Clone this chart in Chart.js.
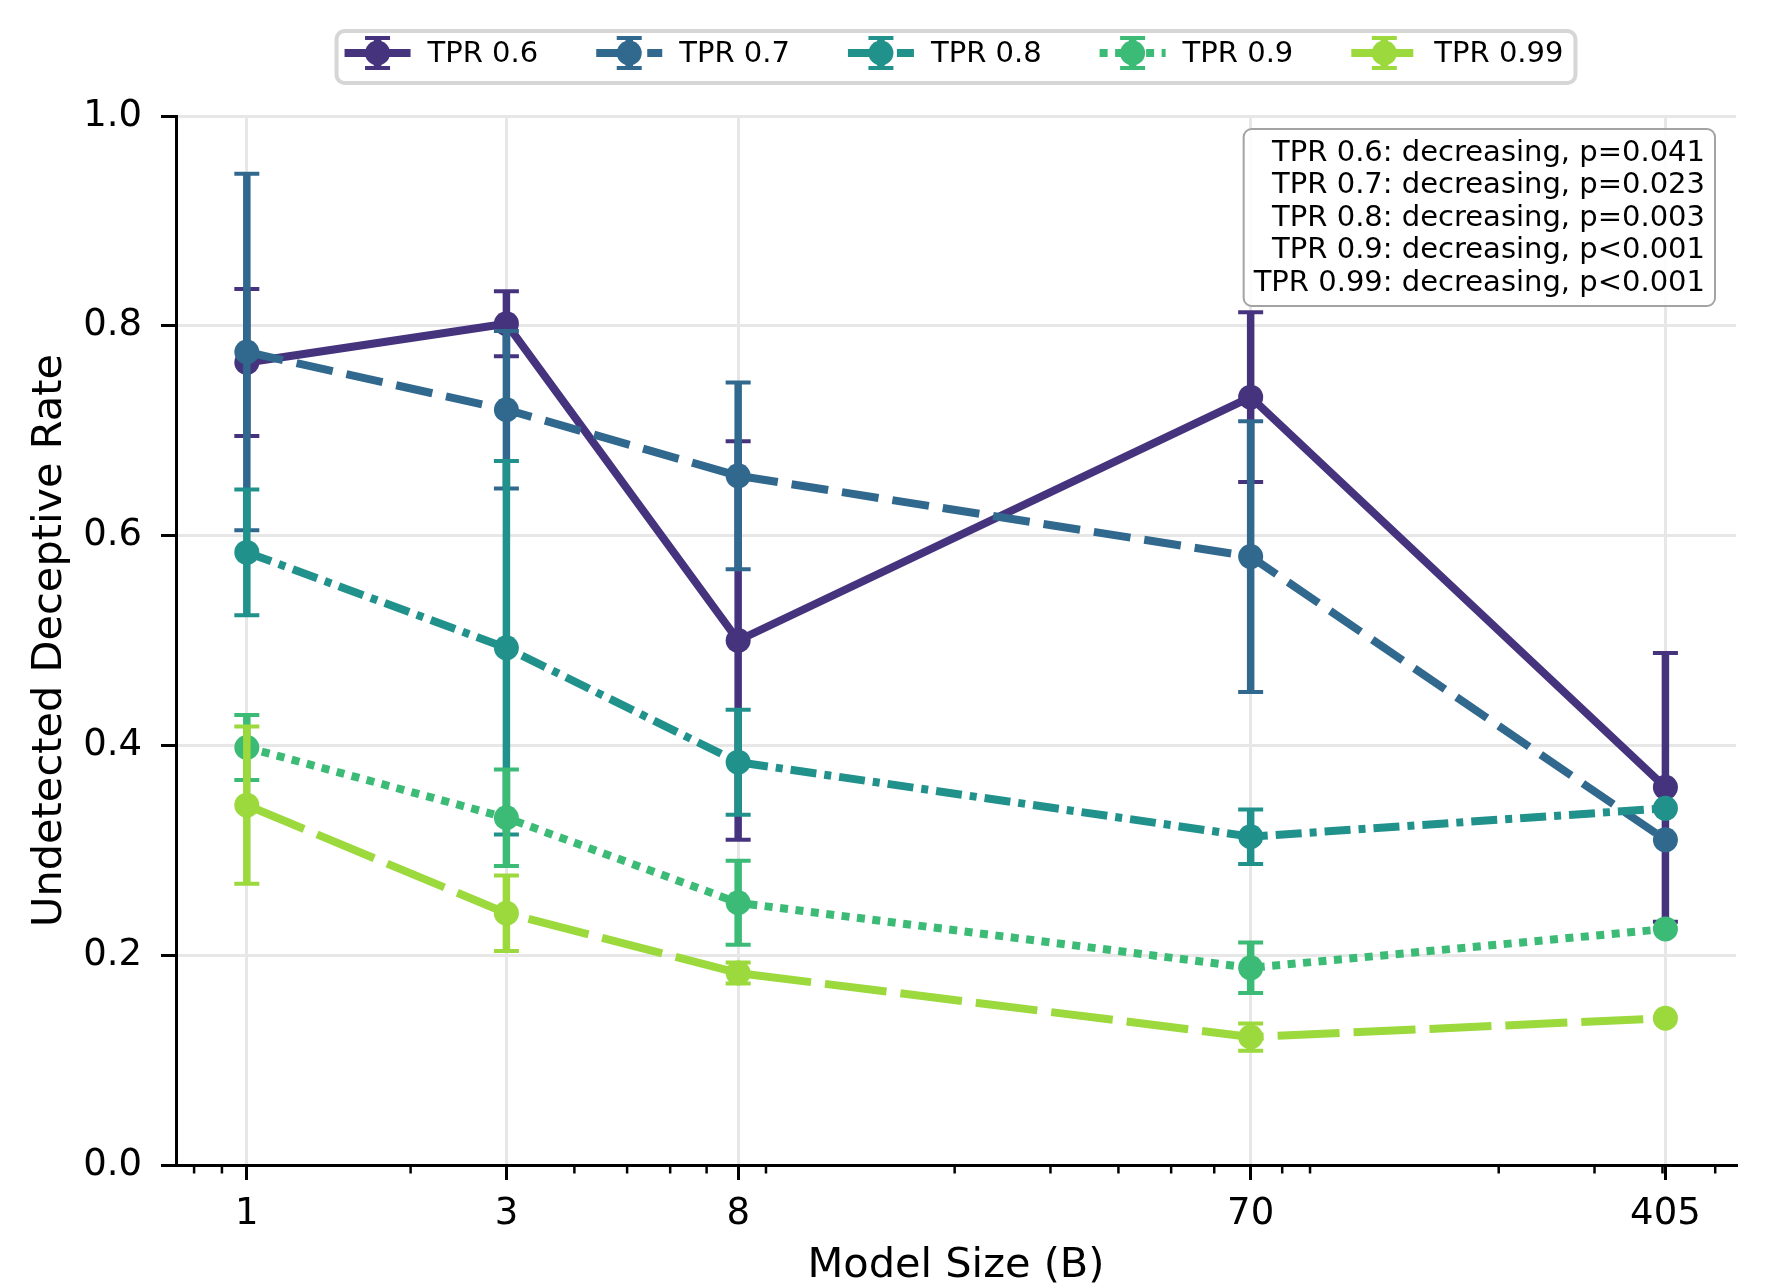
<!DOCTYPE html>
<html>
<head>
<meta charset="utf-8">
<script src="https://cdn.jsdelivr.net/npm/chart.js@4.4.1/dist/chart.umd.min.js"></script>
<style>
  html, body { margin: 0; padding: 0; background: #fff; }
  #wrap { width: 1768px; height: 1284px; }
</style>
</head>
<body>
<div id="wrap"><canvas id="myChart" width="1768" height="1284"></canvas></div>
<script>
// model sizes (B) on a log axis
const sizes = [1, 3, 8, 70, 405];
const xTickLabels = ['1', '3', '8', '70', '405'];
const minorTicks = [0.8, 0.9, 2, 4, 5, 6, 7, 9, 20, 30, 40, 50, 60, 80, 90, 200, 300, 400, 500];
const yTicks = [0, 0.2, 0.4, 0.6, 0.8, 1.0];

const labels = ['TPR 0.6', 'TPR 0.7', 'TPR 0.8', 'TPR 0.9', 'TPR 0.99'];

// undetected deceptive rate + error (half length)
const rate06  = [0.765, 0.802, 0.500, 0.732, 0.360];
const err06   = [0.070, 0.031, 0.190, 0.081, 0.128];
const rate07  = [0.775, 0.720, 0.657, 0.580, 0.310];
const err07   = [0.170, 0.075, 0.089, 0.129, 0];
const rate08  = [0.584, 0.493, 0.384, 0.313, 0.340];
const err08   = [0.060, 0.178, 0.050, 0.026, 0];
const rate09  = [0.398, 0.331, 0.250, 0.188, 0.225];
const err09   = [0.031, 0.046, 0.040, 0.024, 0];
const rate099 = [0.343, 0.240, 0.183, 0.122, 0.140];
const err099  = [0.075, 0.036, 0.010, 0.013, 0];

const trendText = [
  'TPR 0.6: decreasing, p=0.041',
  'TPR 0.7: decreasing, p=0.023',
  'TPR 0.8: decreasing, p=0.003',
  'TPR 0.9: decreasing, p<0.001',
  'TPR 0.99: decreasing, p<0.001'
];

const colors = ['#46337e', '#31688e', '#21918c', '#3bbb75', '#9bd93c'];
const dashes = [[], [37, 14], [26, 8, 7, 8], [8, 7.5], [62, 14]];

const rates = [rate06, rate07, rate08, rate09, rate099];
const errs = [err06, err07, err08, err09, err099];

Chart.defaults.font.family = '"DejaVu Sans", sans-serif';
Chart.defaults.color = '#000';

const datasets = labels.map((lab, i) => ({
  label: lab,
  data: sizes.map((s, j) => ({x: s, y: rates[i][j]})),
  errors: errs[i],
  showLine: true,
  borderColor: colors[i],
  backgroundColor: colors[i],
  borderWidth: 8,
  borderDash: dashes[i],
  borderJoinStyle: 'round',
  pointRadius: 12.5,
  pointHoverRadius: 12.5,
  pointBorderWidth: 0,
  order: labels.length - i   // later series drawn on top
}));

// error bars, drawn just before each series so its line/markers cover them
const errorBars = {
  id: 'errorBars',
  beforeDatasetDraw(chart, args) {
    const ds = chart.data.datasets[args.index];
    const y = chart.scales.y;
    const ctx = chart.ctx;
    ctx.save();
    ctx.strokeStyle = ds.borderColor;
    ctx.setLineDash([]);
    ctx.lineCap = 'butt';
    args.meta.data.forEach((pt, j) => {
      const e = ds.errors[j];
      if (!e) return;
      const v = ds.data[j].y;
      const top = y.getPixelForValue(v + e);
      const bot = y.getPixelForValue(v - e);
      ctx.lineWidth = 7.5;
      ctx.beginPath();
      ctx.moveTo(pt.x, top); ctx.lineTo(pt.x, bot);
      ctx.stroke();
      ctx.lineWidth = 4;
      ctx.beginPath();
      ctx.moveTo(pt.x - 12.5, top); ctx.lineTo(pt.x + 12.5, top);
      ctx.moveTo(pt.x - 12.5, bot); ctx.lineTo(pt.x + 12.5, bot);
      ctx.stroke();
    });
    ctx.restore();
  }
};

function roundRect(ctx, x, y, w, h, r) {
  ctx.beginPath();
  ctx.moveTo(x + r, y);
  ctx.lineTo(x + w - r, y);
  ctx.arcTo(x + w, y, x + w, y + r, r);
  ctx.lineTo(x + w, y + h - r);
  ctx.arcTo(x + w, y + h, x + w - r, y + h, r);
  ctx.lineTo(x + r, y + h);
  ctx.arcTo(x, y + h, x, y + h - r, r);
  ctx.lineTo(x, y + r);
  ctx.arcTo(x, y, x + r, y, r);
  ctx.closePath();
}

// minor ticks, top legend and the trend text box
const extras = {
  id: 'extras',
  afterDraw(chart) {
    const ctx = chart.ctx;
    const area = chart.chartArea;
    const xs = chart.scales.x;

    // minor x ticks
    ctx.save();
    ctx.strokeStyle = '#000';
    ctx.lineWidth = 2.5;
    minorTicks.forEach(v => {
      if (v < xs.min || v > xs.max) return;
      const px = xs.getPixelForValue(v);
      ctx.beginPath();
      ctx.moveTo(px, area.bottom);
      ctx.lineTo(px, area.bottom + 8.5);
      ctx.stroke();
    });
    ctx.restore();

    // legend
    ctx.save();
    ctx.font = '29px "DejaVu Sans"';
    const sampleW = 66, textGap = 17, colGap = 58, padL = 8, padR = 12;
    const widths = labels.map(l => ctx.measureText(l).width);
    let total = colGap * (labels.length - 1);
    widths.forEach(w => { total += sampleW + textGap + w; });
    const boxW = total + padL + padR;
    const bx = (area.left + area.right) / 2 - boxW / 2;
    const by = 31, bh = 52, cy = 53;
    roundRect(ctx, bx, by, boxW, bh, 8);
    ctx.fillStyle = 'rgba(255,255,255,0.8)';
    ctx.fill();
    ctx.strokeStyle = '#d6d6d6';
    ctx.lineWidth = 4;
    ctx.stroke();

    let x = bx + padL;
    labels.forEach((lab, i) => {
      ctx.strokeStyle = colors[i];
      ctx.lineCap = 'butt';
      ctx.lineWidth = 8;
      ctx.setLineDash(dashes[i]);
      ctx.beginPath();
      ctx.moveTo(x, cy); ctx.lineTo(x + sampleW, cy);
      ctx.stroke();
      ctx.setLineDash([]);
      const mx = x + sampleW / 2;
      ctx.lineWidth = 7.5;
      ctx.beginPath();
      ctx.moveTo(mx, cy - 15); ctx.lineTo(mx, cy + 15);
      ctx.stroke();
      ctx.lineWidth = 4;
      ctx.beginPath();
      ctx.moveTo(mx - 12.5, cy - 15); ctx.lineTo(mx + 12.5, cy - 15);
      ctx.moveTo(mx - 12.5, cy + 15); ctx.lineTo(mx + 12.5, cy + 15);
      ctx.stroke();
      ctx.fillStyle = colors[i];
      ctx.beginPath();
      ctx.arc(mx, cy, 12.5, 0, Math.PI * 2);
      ctx.fill();
      ctx.fillStyle = '#000';
      ctx.textAlign = 'left';
      ctx.textBaseline = 'middle';
      ctx.fillText(lab, x + sampleW + textGap, cy + 1.5);
      x += sampleW + textGap + widths[i] + colGap;
    });
    ctx.restore();

    // trend box (top right)
    ctx.save();
    ctx.font = '29px "DejaVu Sans"';
    const tw = Math.max(...trendText.map(t => ctx.measureText(t).width));
    const right = area.right - 21;
    const top = area.top + 13;
    const pad = 10, lh = 32.5;
    const boxH = 177;
    roundRect(ctx, right - tw - 2 * pad, top, tw + 2 * pad, boxH, 8);
    ctx.fillStyle = 'rgba(255,255,255,0.85)';
    ctx.fill();
    ctx.strokeStyle = '#a3a3a3';
    ctx.lineWidth = 2;
    ctx.stroke();
    ctx.fillStyle = '#000';
    ctx.textAlign = 'right';
    ctx.textBaseline = 'middle';
    trendText.forEach((t, k) => {
      ctx.fillText(t, right - pad, top + 24 + k * lh);
    });
    ctx.restore();
  }
};

const ctx = document.getElementById('myChart').getContext('2d');
new Chart(ctx, {
  type: 'scatter',
  data: { datasets: datasets },
  options: {
    responsive: false,
    animation: false,
    devicePixelRatio: 1,
    events: [],
    layout: { padding: { left: 0, right: 32, top: 116, bottom: 0 } },
    plugins: {
      legend: { display: false },
      tooltip: { enabled: false }
    },
    scales: {
      x: {
        type: 'logarithmic',
        min: 0.741,
        max: 546,
        bounds: 'data',
        afterBuildTicks: s => { s.ticks = sizes.map(v => ({value: v})); },
        afterFit: s => { s.height = 119; },
        ticks: {
          callback: (v, i) => xTickLabels[i],
          font: { size: 37 },
          color: '#000',
          padding: 12,
          maxRotation: 0,
          autoSkip: false
        },
        grid: { color: '#e7e7e7', lineWidth: 3, tickColor: '#000', tickWidth: 3, tickLength: 15 },
        border: { color: '#000', width: 3 },
        title: {
          display: true,
          text: 'Model Size (B)',
          font: { size: 41.5, lineHeight: 0.85 },
          color: '#000',
          padding: { top: 0, bottom: 0 }
        }
      },
      y: {
        min: 0,
        max: 1,
        afterBuildTicks: s => { s.ticks = yTicks.map(v => ({value: v})); },
        afterFit: s => { s.width = 176; },
        ticks: {
          callback: v => v.toFixed(1),
          font: { size: 37 },
          color: '#000',
          padding: 19
        },
        grid: { color: '#e7e7e7', lineWidth: 3, tickColor: '#000', tickWidth: 3, tickLength: 15 },
        border: { color: '#000', width: 3 },
        title: {
          display: true,
          text: 'Undetected Deceptive Rate',
          font: { size: 41.5, lineHeight: 1 },
          color: '#000',
          padding: { top: 29, bottom: 0 }
        }
      }
    }
  },
  plugins: [errorBars, extras]
});
</script>
</body>
</html>
